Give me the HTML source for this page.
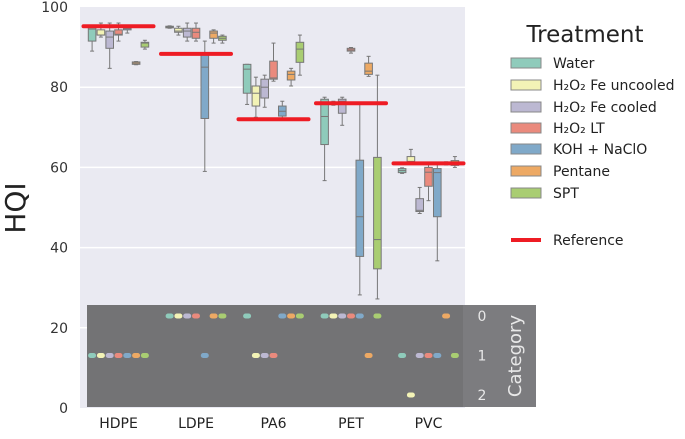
<!DOCTYPE html>
<html><head><meta charset="utf-8"><style>
body{margin:0;background:#fff;width:685px;height:434px;overflow:hidden}
svg{font-family:"DejaVu Sans","Liberation Sans",sans-serif}
</style></head><body>
<svg id="c" width="685" height="434">
<rect x="80" y="7" width="385" height="401" fill="#eaeaf2"/>
<g id="grid"></g>
<g id="marks"></g>
<g id="cat"></g>
<g id="axes"></g>
<g id="legend"></g>
</svg>
<script>
const groups=["HDPE","LDPE","PA6","PET","PVC"];
const treatments=["Water","H₂O₂ Fe uncooled","H₂O₂ Fe cooled","H₂O₂ LT","KOH + NaClO","Pentane","SPT"];
const colors=["#8fcbbb","#f3f3b6","#bcb8d2","#ea8a7d","#80a9c9","#eda964","#a9cd72"];
const yTicks=[0,20,40,60,80,100];
const refValues=[95.2,88.3,72,76,61];
// [whiskerLow, q1, median, q3, whiskerHigh]
const HDPE=[[89,91.5,94.5,95,95.2],[92.5,93,93,94.3,96],[84.7,89.7,92.5,94,96],[91.5,93,93.2,94.3,96],[93.5,94.3,94.6,95,95.5],[85.6,85.7,86,86.3,86.4],[89.5,90,91,91.2,91.7]];
const LDPE=[[94.7,94.8,95,95.2,95.3],[93,93.7,94,94.7,95.2],[91.5,92.5,94,94.7,96],[91.5,92.2,93.7,94.7,96],[59,72.2,85,88.2,91.5],[91,92.2,93.5,94,94.3],[91,91.7,92.2,92.7,93]];
const PA6=[[75.7,78.5,84.5,85.7,85.7],[72.5,75.3,78.5,80.3,82.5],[75,77.3,80,82,83],[81.5,82,82.3,86.5,91],[71.8,72.8,74,75.3,76.5],[80.3,81.8,83.2,84,84.7],[83,86.2,89.5,91.2,93]];
const PET=[[56.7,65.7,72.7,77,77.5],[75.5,75.8,76,76.3,76.5],[70.5,73.5,76.5,77,77.5],[88.5,89,89.3,89.7,89.9],[28.2,37.8,47.7,61.8,76],[82.7,83.2,84,86,87.7],[27.2,34.7,42,62.5,83]];
const PVC=[[58.5,58.7,59.2,59.7,59.9],[61,61.2,61.5,62.7,64.5],[48.5,49,49.3,52.2,55],[51.7,55.3,58.8,60,61],[36.7,47.7,58.7,59.7,61],[60.6,60.8,61,61.2,61.4],[60,60.5,61,61.7,62.7]];
const boxData=[HDPE,LDPE,PA6,PET,PVC];
const catHDPE=[1,1,1,1,1,1,1];
const catLDPE=[0,0,0,0,1,0,0];
const catPA6=[0,1,1,1,0,0,0];
const catPET=[0,0,0,0,0,1,0];
const catPVC=[1,2,1,1,1,0,1];
const catData=[catHDPE,catLDPE,catPA6,catPET,catPVC];

const NS="http://www.w3.org/2000/svg";
function mk(t,a,p){const e=document.createElementNS(NS,t);for(const k in a)e.setAttribute(k,a[k]);p.appendChild(e);return e;}
const y=v=>408-4.01*v;
const gx=i=>118.5+77.5*i;
const hx=(i,j)=>gx(i)+(j-3)*8.8;
const catY=c=>316+39.5*c;

const grid=document.getElementById('grid'),marks=document.getElementById('marks'),cat=document.getElementById('cat'),axes=document.getElementById('axes'),lg=document.getElementById('legend');
yTicks.forEach(t=>{
 if(t>0&&t<100){const l=mk('line',{x1:80,x2:465,y1:y(t),y2:y(t),stroke:'#fff','stroke-width':1.5},grid);
 
 }
 const tx=mk('text',{x:68,y:y(t)+5,'text-anchor':'end','font-size':14,fill:'#333'},axes);tx.textContent=t;
 
 
});
const yl=mk('text',{x:0,y:0,transform:'translate(25,208) rotate(-90)','text-anchor':'middle','font-size':28,fill:'#222'},axes);yl.textContent='HQI';



boxData.forEach((g,i)=>{
 g.forEach((b,j)=>{
  const cx=hx(i,j),w=7.6,gg=mk('g',{},marks);
  
  
  mk('line',{x1:cx,x2:cx,y1:y(b[4]),y2:y(b[3]),stroke:'#777','stroke-width':1},gg);
  mk('line',{x1:cx,x2:cx,y1:y(b[1]),y2:y(b[0]),stroke:'#777','stroke-width':1},gg);
  mk('line',{x1:cx-2,x2:cx+2,y1:y(b[4]),y2:y(b[4]),stroke:'#777'},gg);
  mk('line',{x1:cx-2,x2:cx+2,y1:y(b[0]),y2:y(b[0]),stroke:'#777'},gg);
  mk('rect',{x:cx-w/2,y:y(b[3]),width:w,height:Math.max(1,y(b[1])-y(b[3])),fill:colors[j],stroke:'#777','stroke-width':1},gg);
  mk('line',{x1:cx-w/2,x2:cx+w/2,y1:y(b[2]),y2:y(b[2]),stroke:'#777','stroke-width':1},gg);
 });
 const r=mk('line',{x1:gx(i)-35,x2:gx(i)+35,y1:y(refValues[i]),y2:y(refValues[i]),stroke:'#ee1c24','stroke-width':4,'stroke-linecap':'round'},marks);
 
 
 const lb=mk('text',{x:gx(i),y:428,'text-anchor':'middle','font-size':14,fill:'#222'},axes);lb.textContent=groups[i];
 
 
});

const ov=mk('rect',{x:87,y:305,width:449,height:102,fill:'#7c7c7f'},cat);


const ov2=mk('rect',{x:87,y:305,width:376,height:102,fill:'#737375'},cat);


[0,1,2].forEach(c=>{const t=mk('text',{x:482,y:catY(c)+5,'text-anchor':'middle','font-size':14,fill:'#e8e8e8'},cat);t.textContent=c;
 
 });
const ct=mk('text',{x:0,y:0,transform:'translate(521,356) rotate(-90)','text-anchor':'middle','font-size':18,fill:'#e8e8e8'},cat);ct.textContent='Category';


catData.forEach((g,i)=>g.forEach((c,j)=>{
 const d=mk('rect',{x:hx(i,j)-4,y:catY(c)-2.5,width:8,height:5,rx:2.5,fill:colors[j]},cat);
 
 
}));

const lt=mk('text',{x:585,y:42,'text-anchor':'middle','font-size':23,fill:'#222'},lg);lt.textContent='Treatment';


const ly=[63,85,107,128,149,171,193];
treatments.forEach((t,j)=>{
 const g=mk('g',{},lg);
 
 
 mk('rect',{x:511,y:ly[j]-5,width:30,height:10,fill:colors[j],stroke:'#888','stroke-width':1},g);
 const tx=mk('text',{x:553,y:ly[j]+5,'font-size':14,fill:'#222'},g);tx.textContent=t;
});
const rg=mk('g',{},lg);


mk('line',{x1:511,x2:541,y1:240,y2:240,stroke:'#ee1c24','stroke-width':4},rg);
const rt=mk('text',{x:553,y:245,'font-size':14,fill:'#222'},rg);rt.textContent='Reference';
</script>
</body></html>
